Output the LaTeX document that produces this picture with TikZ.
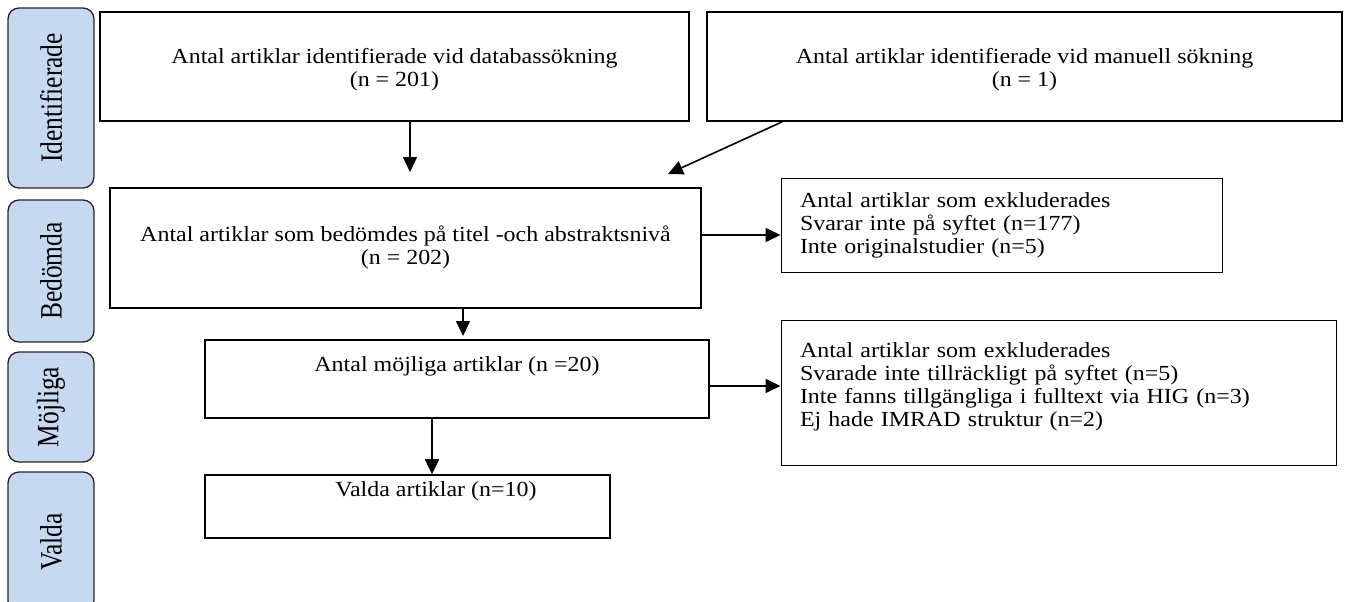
\documentclass[tikz,border=0pt]{standalone}
\usepackage{fontspec}
\setmainfont{Liberation Serif}[FakeStretch=1.115]
\newfontfamily\phasefont{Liberation Serif}[FakeStretch=0.82]
\usetikzlibrary{arrows.meta}

\begin{document}
\begin{tikzpicture}[x=1pt,y=-1pt,
    font=\fontsize{21.5}{23}\selectfont,
    flowbox/.style={draw, line width=1.6pt, align=center, inner sep=0pt},
    exclbox/.style={draw, line width=1pt, align=left, inner xsep=19pt, inner ysep=0pt},
    phase/.style={draw=black!85, line width=1.3pt, fill=phaseblue, rounded corners=11pt,
        inner sep=0pt, rotate=90, minimum height=86pt, font=\phasefont\fontsize{31}{34}\selectfont},
    arr/.style={-{Triangle[length=15pt,width=14pt]}, line width=1.6pt}]

    % Colors for the phase labels
    \definecolor{phaseblue}{RGB}{198,217,241}

    \useasboundingbox (0,0) rectangle (1365,602);

    % Phase labels
    \node[phase, minimum width=180pt] (idf) at (51,98) {Identifierade};
    \node[phase, minimum width=142pt] (bed) at (51,271) {Bedömda};
    \node[phase, minimum width=110pt] (moj) at (51,407) {Möjliga};
    \node[phase, minimum width=140pt] (val) at (51,542) {Valda};

    % Identification
    \node[flowbox, minimum width=589pt, minimum height=109pt, text height=45pt] (dbs) at (394.5,66.5)
        {Antal artiklar identifierade vid databassökning\\(n = 201)};
    \node[flowbox, minimum width=635pt, minimum height=109pt, text height=45pt] (man) at (1024.5,66.5)
        {Antal artiklar identifierade vid manuell sökning\\(n = 1)};

    % Screening
    \node[flowbox, minimum width=591pt, minimum height=120pt] (scr) at (405.5,248)
        {Antal artiklar som bedömdes på titel -och abstraktsnivå\\(n = 202)};
    \node[exclbox, text width=403pt, minimum height=94pt, text depth=50pt] (exa) at (1001.5,225)
        {Antal artiklar som exkluderades\\Svarar inte på syftet (n=177)\\Inte originalstudier (n=5)};

    % Eligibility
    \node[flowbox, minimum width=504pt, minimum height=78pt, text depth=30pt] (elg) at (457,379)
        {Antal möjliga artiklar (n =20)};
    \node[exclbox, text width=517pt, minimum height=145pt, text depth=84pt] (exb) at (1058.5,392.5)
        {Antal artiklar som exkluderades\\Svarade inte tillräckligt på syftet (n=5)\\Inte fanns tillgängliga i fulltext via HIG (n=3)\\Ej hade IMRAD struktur (n=2)};

    % Included
    \node[flowbox, minimum width=405pt, minimum height=63pt, text depth=35pt] (inc) at (407.5,506.5)
        {\hspace*{57pt}Valda artiklar (n=10)};

    % Arrows
    \coordinate (ta) at (410,172);
    \coordinate (tb) at (668,174);
    \coordinate (tc) at (463,336);
    \coordinate (td) at (432,0);
    \draw[arr] (dbs.south -| ta) -- (ta);
    \draw[arr] ([xshift=76pt]man.south west) -- (tb);
    \draw[arr] ([yshift=13pt]scr.east) -- ([yshift=13pt]scr.east -| exa.west);
    \draw[arr] (scr.south -| tc) -- (tc);
    \draw[arr] ([yshift=-7pt]elg.east) -- ([yshift=-7pt]elg.east -| exb.west);
    \draw[arr] (elg.south -| td) -- (inc.north -| td);

\end{tikzpicture}
\end{document}
